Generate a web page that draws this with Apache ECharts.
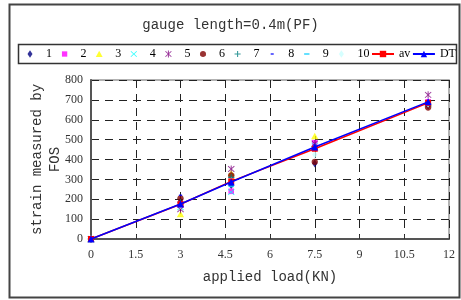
<!DOCTYPE html>
<html>
<head>
<meta charset="utf-8">
<script src="https://cdn.jsdelivr.net/npm/echarts@6/dist/echarts.min.js"></script>
<style>
html, body { margin: 0; padding: 0; background: #fff; }
#chart { width: 461px; height: 300px; }
</style>
</head>
<body>
<div id="chart"></div>
<script>
// applied load (KN)
var loads = [0, 3, 4.7, 7.5, 11.3];
// strain measured by FOS, gauges 1..10
var g1 = [0, 190, 270, 380, 670];
var g2 = [0, 175, 240, 485, 690];
var g3 = [0, 125, 332, 518, 685];
var g4 = [0, 160, 236, 470, 680];
var g5 = [0, 150, 352, 480, 725];
var g6 = [0, 205, 320, 388, 662];
var g7 = [0, 185, 310, 465, 680];
var g8 = [0, 220, 280, 470, 690];
var g9 = [0, 165, 265, 455, 685];
var g10 = [0, 170, 290, 425, 680];
var av = [0, 175, 290, 454, 685];
var dt = [0, 176, 287, 463, 690];
var xTicks = ['0', '1.5', '3', '4.5', '6', '7.5', '9', '10.5', '12'];

var serif = '"Liberation Serif", serif';
var mono = '"Liberation Mono", monospace';

// marker outlines in a -1..1 box
var circlePts = [];
for (var a = 0; a < 16; a++) {
    circlePts.push([0.8 * Math.cos(a * Math.PI / 8), 0.8 * Math.sin(a * Math.PI / 8)]);
}
var xPts = [[-0.7,-0.8],[0,-0.14],[0.7,-0.8],[0.86,-0.64],[0.16,0],[0.86,0.64],[0.7,0.8],[0,0.14],[-0.7,0.8],[-0.86,0.64],[-0.16,0],[-0.86,-0.64]];
var shapes = {
    diamond: [[[0,-1],[0.66,0],[0,1],[-0.66,0]]],
    rect: [[[-0.7,-0.7],[0.7,-0.7],[0.7,0.7],[-0.7,0.7]]],
    tri: [[[0,-0.85],[0.9,0.8],[-0.9,0.8]]],
    circle: [circlePts],
    x: [xPts],
    star: [xPts, [[-0.12,-0.9],[0.12,-0.9],[0.12,0.9],[-0.12,0.9]]],
    plus: [[[-0.14,-0.8],[0.14,-0.8],[0.14,-0.14],[0.8,-0.14],[0.8,0.14],[0.14,0.14],[0.14,0.8],[-0.14,0.8],[-0.14,0.14],[-0.8,0.14],[-0.8,-0.14],[-0.14,-0.14]]],
    dash: [[[-0.4,-0.2],[0.4,-0.2],[0.4,0.2],[-0.4,0.2]]],
    dash2: [[[-0.7,-0.2],[0.7,-0.2],[0.7,0.2],[-0.7,0.2]]]
};

// path inside a w x h box, shape centred and scaled by s
function shapePath(polys, w, h, s) {
    var p = 'path://M0,0M' + w + ',' + h;
    polys.forEach(function (poly) {
        poly.forEach(function (pt, i) {
            p += (i ? 'L' : 'M') + (w / 2 + pt[0] * s).toFixed(2) + ',' + (h / 2 + pt[1] * s).toFixed(2);
        });
        p += 'Z';
    });
    return p;
}

var gauges = [
    { name: '1', data: g1, color: '#000080', shape: 'diamond' },
    { name: '2', data: g2, color: '#ff00ff', shape: 'rect' },
    { name: '3', data: g3, color: '#ffff00', shape: 'tri' },
    { name: '4', data: g4, color: '#00ffff', shape: 'x' },
    { name: '5', data: g5, color: '#800080', shape: 'star' },
    { name: '6', data: g6, color: '#800000', shape: 'circle' },
    { name: '7', data: g7, color: '#008080', shape: 'plus' },
    { name: '8', data: g8, color: '#0000ff', shape: 'dash' },
    { name: '9', data: g9, color: '#00ccff', shape: 'dash2' },
    { name: '10', data: g10, color: '#ccffff', shape: 'diamond' }
];

function pairs(ys) {
    return loads.map(function (x, i) { return [x, ys[i]]; });
}

var series = gauges.map(function (g) {
    return {
        name: g.name,
        type: 'scatter',
        data: pairs(g.data),
        symbol: shapePath(shapes[g.shape], 10, 10, 5),
        symbolSize: 8,
        itemStyle: { color: g.color },
        z: 3
    };
});
series.push({
    name: 'av',
    type: 'line',
    data: pairs(av),
    symbol: 'rect',
    symbolSize: 6,
    showAllSymbol: true,
    lineStyle: { color: '#ff0000', width: 1.5 },
    itemStyle: { color: '#ff0000' },
    z: 4
});
series.push({
    name: 'DT',
    type: 'line',
    data: pairs(dt),
    symbol: 'triangle',
    symbolSize: 7,
    showAllSymbol: true,
    lineStyle: { color: '#0000ff', width: 1.5 },
    itemStyle: { color: '#0000ff' },
    z: 5
});

var legendData = gauges.map(function (g) {
    return { name: g.name, icon: shapePath(shapes[g.shape], 22, 8, 3.8) };
}).concat([{ name: 'av' }, { name: 'DT' }]);

var chart = echarts.init(document.getElementById('chart'));
chart.setOption({
    animation: false,
    backgroundColor: '#fff',
    title: {
        text: 'gauge length=0.4m(PF)',
        left: 'center',
        top: 13,
        textStyle: { fontFamily: mono, fontSize: 14, fontWeight: 'normal', color: '#333' }
    },
    graphic: [
        { type: 'rect', shape: { x: 9.5, y: 4.5, width: 450, height: 293 }, style: { fill: 'none', stroke: '#444', lineWidth: 2 }, silent: true },
        { type: 'rect', shape: { x: 18.5, y: 44.5, width: 438, height: 19 }, style: { fill: 'none', stroke: '#333', lineWidth: 1.5 }, silent: true }
    ],
    legend: {
        left: 14,
        top: 48,
        width: 447,
        padding: [0, 5],
        itemWidth: 22,
        itemHeight: 8,
        itemGap: 1.6,
        textStyle: { fontFamily: serif, fontSize: 12, color: '#000' },
        data: legendData
    },
    grid: {
        left: 91,
        right: 12,
        top: 80,
        bottom: 61,
        show: true,
        borderColor: '#999',
        borderWidth: 1.5
    },
    xAxis: {
        type: 'value',
        min: 0,
        max: 12,
        interval: 1.5,
        name: 'applied load(KN)',
        nameLocation: 'middle',
        nameGap: 31,
        nameMoveOverlap: false,
        nameTextStyle: { fontFamily: mono, fontSize: 14, color: '#333' },
        axisLine: { lineStyle: { color: '#555', width: 2 } },
        axisTick: { inside: true, length: 4, lineStyle: { color: '#333' } },
        axisLabel: {
            margin: 10,
            fontFamily: serif,
            fontSize: 12,
            color: '#333',
            formatter: function (v) { return xTicks[Math.round(v / 1.5)]; }
        },
        splitLine: { show: true, lineStyle: { color: '#222', type: [8, 6], width: 1 } }
    },
    yAxis: {
        type: 'value',
        min: 0,
        max: 800,
        interval: 100,
        name: 'strain measured by\nFOS',
        nameLocation: 'middle',
        nameGap: 27,
        nameMoveOverlap: false,
        nameRotate: 90,
        nameTextStyle: { fontFamily: mono, fontSize: 14, color: '#333', lineHeight: 18 },
        axisLine: { show: true, lineStyle: { color: '#555', width: 2 } },
        axisTick: { show: false },
        axisLabel: { margin: 8, fontFamily: serif, fontSize: 12, color: '#333' },
        splitLine: { show: true, lineStyle: { color: '#222', type: [8, 6], width: 1 } }
    },
    series: series
});
</script>
</body>
</html>
